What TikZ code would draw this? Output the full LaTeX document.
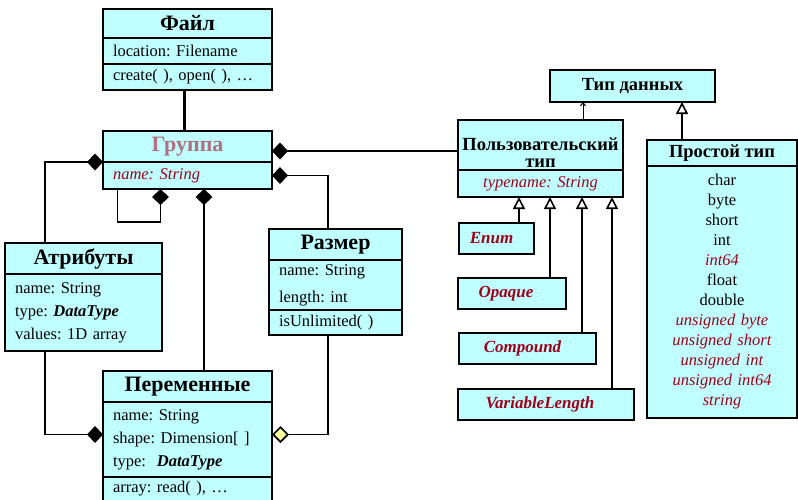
\documentclass[tikz,border=0pt]{standalone}
\usepackage{fontspec}
\setmainfont{Liberation Serif}
\usetikzlibrary{positioning,arrows.meta}
\definecolor{cyanclair}{RGB}{192,255,255}
\definecolor{rougefonce}{RGB}{160,0,24}
\definecolor{mauve}{RGB}{176,112,128}
\definecolor{jaune}{RGB}{255,255,160}
\frenchspacing
\begin{document}
\begin{tikzpicture}[x=1pt,y=-1pt]
\tikzstyle{boite} = [draw,line width=1.8pt,fill=cyanclair,inner sep=0pt,outer sep=0pt] %cases des classes
\tikzstyle{titre} = [boite,font=\bfseries\fontsize{22}{24}\selectfont]
\tikzstyle{petittitre} = [boite,font=\bfseries\fontsize{18.5}{20}\selectfont]
\tikzstyle{champs} = [boite,font=\fontsize{16.5}{23}\selectfont,align=left,inner xsep=10pt]
\tikzstyle{sorte} = [boite,minimum height=31pt,anchor=north west,text=rougefonce,font=\bfseries\itshape\fontsize{17}{18}\selectfont]
\tikzstyle{lien} = [line width=1.6pt]
\tikzstyle{compo} = [lien,{Diamond[length=16pt,width=17pt]}-]
\tikzstyle{herite} = [lien,-{Triangle[open,length=12pt,width=12pt]}]
\useasboundingbox (0,0) rectangle (798,499);

%classes de gauche
\node[titre,minimum width=169pt,minimum height=29pt,anchor=north west] (fichier) at (103,9) {Файл};
\node[champs,text width=149pt,minimum height=26pt,below=0pt of fichier] (fichierA) {location: Filename};
\node[champs,text width=149pt,minimum height=26pt,below=0pt of fichierA] (fichierO) {create( ), open( ), …};

\node[titre,text=mauve,minimum width=169pt,minimum height=31pt,anchor=north west] (groupe) at (103,131) {Группа};
\node[champs,text width=149pt,minimum height=27pt,below=0pt of groupe,text=rougefonce] (groupeA) {\textit{name: String}};

\node[titre,minimum width=157pt,minimum height=31pt,anchor=north west] (attr) at (5,243) {Атрибуты};
\node[champs,text width=137pt,minimum height=77pt,below=0pt of attr] (attrA) {name: String\\type: \textbf{\textit{DataType}}\\values: 1D array};

\node[titre,minimum width=133pt,minimum height=31pt,anchor=north west] (dim) at (269,229) {Размер};
\node[champs,text width=113pt,minimum height=50pt,below=0pt of dim] (dimA) {name: String\\[4pt]length: int};
\node[champs,text width=113pt,minimum height=25pt,below=0pt of dimA] (dimO) {isUnlimited( )};

\node[titre,minimum width=169pt,minimum height=31pt,anchor=north west] (var) at (103,371) {Переменные};
\node[champs,text width=149pt,minimum height=75pt,below=0pt of var] (varA) {name: String\\shape: Dimension[ ]\\type: \ \textbf{\textit{DataType}}};
\node[champs,text width=149pt,minimum height=30pt,text depth=10pt,below=0pt of varA] (varO) {array: read( ), …};

%types de donnees
\node[petittitre,minimum width=165pt,minimum height=32pt,anchor=north west] (type) at (550,70) {Тип данных};
\node[petittitre,align=center,minimum width=165pt,minimum height=50pt,anchor=north west] (user) at (458,120) {\rule{0pt}{27pt}Пользовательский\\[-3pt]тип};
\node[champs,align=center,text width=145pt,minimum height=27pt,below=0pt of user,text=rougefonce] (userA) {\textit{typename: String}};

\node[petittitre,minimum width=150pt,minimum height=26pt,anchor=north west] (simple) at (647,140) {Простой тип};
\node[champs,align=center,text width=130pt,minimum height=252pt,below=0pt of simple,font=\fontsize{16.5}{20}\selectfont] (simpleA) {char\\byte\\short\\int\\\textcolor{rougefonce}{\textit{int64}}\\float\\double\\
\textcolor{rougefonce}{\textit{unsigned byte}}\\\textcolor{rougefonce}{\textit{unsigned short}}\\\textcolor{rougefonce}{\textit{unsigned int}}\\\textcolor{rougefonce}{\textit{unsigned int64}}\\\textcolor{rougefonce}{\textit{string}}};

\node[sorte,minimum width=75pt] (enum) at (459,223) {Enum\hspace*{10pt}};
\node[sorte,minimum width=108pt] (opaque) at (458,278) {Opaque\hspace*{12pt}};
\node[sorte,minimum width=137pt] (compound) at (459,333) {Compound\hspace*{10pt}};
\node[sorte,minimum width=176pt] (varlen) at (458,389) {VariableLength\hspace*{12pt}};

%liens
\draw[line width=3pt] ([xshift=-3.5pt]fichierO.south) -- ([xshift=-3.5pt]groupe.north);
\draw[compo] (groupe.south west) -| ([xshift=-38.5pt]attr.north);
\draw[lien,-{Diamond[length=16pt,width=17pt]}] ([xshift=-70pt]groupeA.south) -- ++(0,33) -| ([xshift=-27pt]groupeA.south);
\draw[compo] ([xshift=16.5pt]groupeA.south) -- ([xshift=16.5pt]var.north);
\draw[compo] (groupeA.east) -| ([xshift=-7.5pt]dim.north);
\coordinate (g1) at ([yshift=-4.5pt]groupe.east);
\draw[compo] (g1) -- (g1 -| user.west);
\draw[lien,-{Diamond[length=16pt,width=17pt]}] ([xshift=-38.5pt]attrA.south) |- ([yshift=5pt]varA.west);
\draw[lien,-{Diamond[length=17pt,width=17pt,fill=jaune]}] ([xshift=-7.5pt]dimO.south) |- ([yshift=5pt]varA.east);

%heritage
\coordinate (u1) at ([xshift=42.5pt]user.north);
\draw[line width=1pt,-{Straight Barb[length=3pt,width=5pt]}] (u1) -- (u1 |- type.south);
\coordinate (s1) at ([xshift=-40pt]simple.north);
\draw[herite] (s1) -- (s1 |- type.south);
\coordinate (e1) at ([xshift=22.5pt]enum.north);
\draw[herite] (e1) -- (e1 |- userA.south);
\coordinate (o1) at ([xshift=38pt]opaque.north);
\draw[herite] (o1) -- (o1 |- userA.south);
\coordinate (c1) at ([xshift=54.5pt]compound.north);
\draw[herite] (c1) -- (c1 |- userA.south);
\coordinate (v1) at ([xshift=66pt]varlen.north);
\draw[herite] (v1) -- (v1 |- userA.south);
\end{tikzpicture}
\end{document}
